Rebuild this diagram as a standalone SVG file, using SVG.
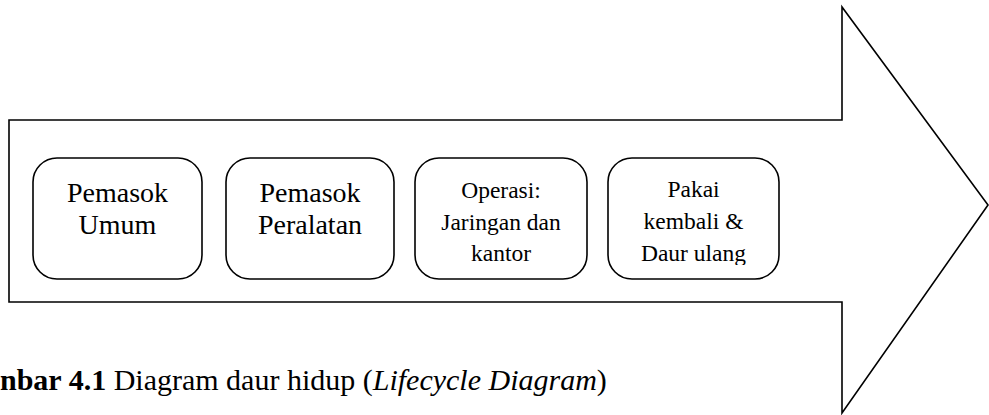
<svg xmlns="http://www.w3.org/2000/svg" width="989" height="415" viewBox="0 0 989 415">
<style>
.shape{fill:#fff;stroke:#000;stroke-width:1.6}
.box{fill:#fff;stroke:#000;stroke-width:1.6}
text{font-family:'Liberation Serif','Times New Roman',serif;fill:#000}
.t{text-anchor:middle}
.big{font-size:28px}
.sm{font-size:23.5px}
.cap{font-size:30px}
</style>
<defs>
<clipPath id="clip4"><rect x="608" y="158" width="171" height="107"/></clipPath>
</defs>
<rect width="989" height="415" fill="#fff"/>
<g id="arrow">
<polygon class="shape" points="9,120 842,120 842,7 988,205 842,413 842,302 9,302"/>
</g>
<g id="connectors"></g>
<g id="node1">
<rect class="box" x="33" y="158" width="169" height="121" rx="24"/>
<text class="t big" x="117.5" y="202">Pemasok</text>
<text class="t big" x="117.5" y="234">Umum</text>
</g>
<g id="node2">
<rect class="box" x="226" y="158" width="168" height="121" rx="24"/>
<text class="t big" x="310" y="202">Pemasok</text>
<text class="t big" x="310" y="234">Peralatan</text>
</g>
<g id="node3">
<rect class="box" x="415" y="158" width="172" height="121" rx="24"/>
<text class="t sm" x="501" y="198">Operasi:</text>
<text class="t sm" x="501" y="230">Jaringan dan</text>
<text class="t sm" x="501" y="261">kantor</text>
</g>
<g id="node4">
<rect class="box" x="608" y="158" width="171" height="121" rx="24"/>
<g clip-path="url(#clip4)">
<text class="t sm" x="693.5" y="197">Pakai</text>
<text class="t sm" x="693.5" y="229">kembali &amp;</text>
<text class="t sm" x="693.5" y="261">Daur ulang</text>
</g>
</g>
<g id="caption">
<text class="cap" x="0" y="390"><tspan font-weight="bold">nbar 4.1</tspan> Diagram daur hidup (<tspan font-style="italic">Lifecycle Diagram</tspan>)</text>
</g>
</svg>
